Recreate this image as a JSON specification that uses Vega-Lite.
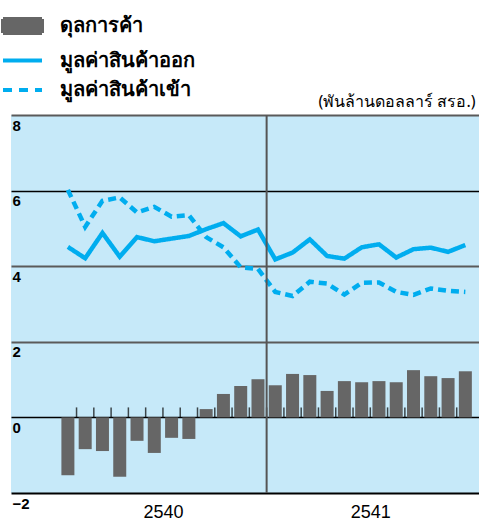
{
  "$schema": "https://vega.github.io/schema/vega-lite/v6.json",
  "width": 468,
  "height": 378,
  "autosize": {"type": "none"},
  "padding": {"left": 11, "top": 115, "right": 0, "bottom": 27},
  "background": "white",
  "config": {
    "view": {"fill": "#c6e9f9", "stroke": null},
    "axisX": {"grid": false, "domain": false, "ticks": false, "labelFontSize": 18, "labelFont": "Liberation Sans", "labelColor": "#000", "labelPadding": 10},
    "axisY": {"domain": false, "ticks": false}
  },
  "data": {
    "values": [
      {"m": 0, "series": "ดุลการค้า", "v": -1.53},
      {"m": 1, "series": "ดุลการค้า", "v": -0.84},
      {"m": 2, "series": "ดุลการค้า", "v": -0.89},
      {"m": 3, "series": "ดุลการค้า", "v": -1.57},
      {"m": 4, "series": "ดุลการค้า", "v": -0.62},
      {"m": 5, "series": "ดุลการค้า", "v": -0.94},
      {"m": 6, "series": "ดุลการค้า", "v": -0.54},
      {"m": 7, "series": "ดุลการค้า", "v": -0.57},
      {"m": 8, "series": "ดุลการค้า", "v": 0.22},
      {"m": 9, "series": "ดุลการค้า", "v": 0.62},
      {"m": 10, "series": "ดุลการค้า", "v": 0.83},
      {"m": 11, "series": "ดุลการค้า", "v": 1.01},
      {"m": 12, "series": "ดุลการค้า", "v": 0.85},
      {"m": 13, "series": "ดุลการค้า", "v": 1.15},
      {"m": 14, "series": "ดุลการค้า", "v": 1.12},
      {"m": 15, "series": "ดุลการค้า", "v": 0.70},
      {"m": 16, "series": "ดุลการค้า", "v": 0.96},
      {"m": 17, "series": "ดุลการค้า", "v": 0.93},
      {"m": 18, "series": "ดุลการค้า", "v": 0.96},
      {"m": 19, "series": "ดุลการค้า", "v": 0.93},
      {"m": 20, "series": "ดุลการค้า", "v": 1.25},
      {"m": 21, "series": "ดุลการค้า", "v": 1.09},
      {"m": 22, "series": "ดุลการค้า", "v": 1.04},
      {"m": 23, "series": "ดุลการค้า", "v": 1.22},
      {"m": 0, "series": "มูลค่าสินค้าออก", "v": 4.51},
      {"m": 1, "series": "มูลค่าสินค้าออก", "v": 4.21},
      {"m": 2, "series": "มูลค่าสินค้าออก", "v": 4.88},
      {"m": 3, "series": "มูลค่าสินค้าออก", "v": 4.25},
      {"m": 4, "series": "มูลค่าสินค้าออก", "v": 4.77},
      {"m": 5, "series": "มูลค่าสินค้าออก", "v": 4.66},
      {"m": 6, "series": "มูลค่าสินค้าออก", "v": 4.73},
      {"m": 7, "series": "มูลค่าสินค้าออก", "v": 4.80},
      {"m": 8, "series": "มูลค่าสินค้าออก", "v": 4.98},
      {"m": 9, "series": "มูลค่าสินค้าออก", "v": 5.14},
      {"m": 10, "series": "มูลค่าสินค้าออก", "v": 4.79},
      {"m": 11, "series": "มูลค่าสินค้าออก", "v": 4.97},
      {"m": 12, "series": "มูลค่าสินค้าออก", "v": 4.18},
      {"m": 13, "series": "มูลค่าสินค้าออก", "v": 4.36},
      {"m": 14, "series": "มูลค่าสินค้าออก", "v": 4.71},
      {"m": 15, "series": "มูลค่าสินค้าออก", "v": 4.27},
      {"m": 16, "series": "มูลค่าสินค้าออก", "v": 4.20},
      {"m": 17, "series": "มูลค่าสินค้าออก", "v": 4.50},
      {"m": 18, "series": "มูลค่าสินค้าออก", "v": 4.58},
      {"m": 19, "series": "มูลค่าสินค้าออก", "v": 4.23},
      {"m": 20, "series": "มูลค่าสินค้าออก", "v": 4.45},
      {"m": 21, "series": "มูลค่าสินค้าออก", "v": 4.49},
      {"m": 22, "series": "มูลค่าสินค้าออก", "v": 4.38},
      {"m": 23, "series": "มูลค่าสินค้าออก", "v": 4.56},
      {"m": 0, "series": "มูลค่าสินค้าเข้า", "v": 6.02},
      {"m": 1, "series": "มูลค่าสินค้าเข้า", "v": 5.04},
      {"m": 2, "series": "มูลค่าสินค้าเข้า", "v": 5.73},
      {"m": 3, "series": "มูลค่าสินค้าเข้า", "v": 5.82},
      {"m": 4, "series": "มูลค่าสินค้าเข้า", "v": 5.42},
      {"m": 5, "series": "มูลค่าสินค้าเข้า", "v": 5.57},
      {"m": 6, "series": "มูลค่าสินค้าเข้า", "v": 5.31},
      {"m": 7, "series": "มูลค่าสินค้าเข้า", "v": 5.35},
      {"m": 8, "series": "มูลค่าสินค้าเข้า", "v": 4.77},
      {"m": 9, "series": "มูลค่าสินค้าเข้า", "v": 4.50},
      {"m": 10, "series": "มูลค่าสินค้าเข้า", "v": 3.97},
      {"m": 11, "series": "มูลค่าสินค้าเข้า", "v": 3.93},
      {"m": 12, "series": "มูลค่าสินค้าเข้า", "v": 3.32},
      {"m": 13, "series": "มูลค่าสินค้าเข้า", "v": 3.21},
      {"m": 14, "series": "มูลค่าสินค้าเข้า", "v": 3.59},
      {"m": 15, "series": "มูลค่าสินค้าเข้า", "v": 3.54},
      {"m": 16, "series": "มูลค่าสินค้าเข้า", "v": 3.25},
      {"m": 17, "series": "มูลค่าสินค้าเข้า", "v": 3.56},
      {"m": 18, "series": "มูลค่าสินค้าเข้า", "v": 3.57},
      {"m": 19, "series": "มูลค่าสินค้าเข้า", "v": 3.32},
      {"m": 20, "series": "มูลค่าสินค้าเข้า", "v": 3.24},
      {"m": 21, "series": "มูลค่าสินค้าเข้า", "v": 3.41},
      {"m": 22, "series": "มูลค่าสินค้าเข้า", "v": 3.35},
      {"m": 23, "series": "มูลค่าสินค้าเข้า", "v": 3.32}
    ]
  },
  "encoding": {
    "x": {
      "field": "m",
      "type": "quantitative",
      "title": null,
      "scale": {"domain": [-3.293, 23.79], "nice": false, "zero": false, "padding": 0},
      "axis": {
        "values": [5.5, 17.5],
        "labelExpr": "datum.value < 10 ? '2540' : '2541'",
        "labelBaseline": "top",
        "labelAlign": "center",
        "labelOverlap": false
      }
    }
  },
  "layer": [
    {
      "transform": [{"filter": "datum.series === 'ดุลการค้า' && datum.m >= 1"}],
      "mark": {"type": "tick", "orient": "vertical", "size": 10, "thickness": 1.5, "color": "#000", "yOffset": -5, "xOffset": -8.64},
      "encoding": {
        "y": {"datum": 0, "type": "quantitative"}
      }
    },
    {
      "transform": [{"filter": "datum.series === 'ดุลการค้า'"}],
      "mark": {"type": "bar", "width": 13, "orient": "vertical"},
      "encoding": {
        "y": {
          "field": "v",
          "type": "quantitative",
          "title": "(พันล้านดอลลาร์ สรอ.)",
          "scale": {"domain": [-2, 8], "nice": false, "zero": false, "padding": 0},
          "axis": {
            "values": [-2, 0, 2, 4, 6, 8],
            "grid": true,
            "gridColor": {"condition": {"test": "datum.value === 0 || datum.value === 6 || datum.value === -2", "value": "#000000"}, "value": "#5a5a5a"},
            "gridWidth": {"condition": {"test": "datum.value === 0 || datum.value === 6", "value": 1.3}, "value": 2},
            "labelAlign": "left",
            "labelBaseline": "top",
            "labelPadding": -1,
            "labelOffset": 3,
            "labelFont": "Liberation Sans",
            "labelFontSize": 15,
            "labelFontWeight": "bold",
            "labelColor": "#000",
            "labelOverlap": false,
            "labelBound": false,
            "labelFlush": false,
            "titleAngle": 0,
            "titleAlign": "right",
            "titleBaseline": "alphabetic",
            "titleX": 464,
            "titleY": -9,
            "titleFont": "Noto Sans",
            "titleFontSize": 16,
            "titleFontWeight": "normal",
            "titleColor": "#000"
          }
        },
        "color": {
          "field": "series",
          "type": "nominal",
          "scale": {
            "domain": ["ดุลการค้า", "มูลค่าสินค้าออก", "มูลค่าสินค้าเข้า"],
            "range": ["#666666", "#00adef", "#00adef"]
          },
          "legend": {
            "orient": "none",
            "legendX": -8,
            "legendY": -101,
            "title": null,
            "direction": "vertical",
            "padding": 0,
            "symbolSize": 400,
            "symbolStrokeWidth": 4,
            "symbolOffset": 7.5,
            "labelFont": "Noto Sans",
            "labelFontSize": 20,
            "labelFontWeight": "bold",
            "labelColor": "#000",
            "labelOffset": 25,
            "rowPadding": 7.5,
            "encode": {
              "symbols": {
                "update": {
                  "shape": {"signal": "datum.index === 0 ? 'M-1.95,-0.7H1.95V0.7H-1.95Z' : 'M-1.95,0H1.95'"},
                  "fill": {"signal": "datum.index === 0 ? '#666666' : 'transparent'"},
                  "stroke": {"signal": "datum.index === 0 ? 'transparent' : '#00adef'"},
                  "strokeDash": {"signal": "datum.index === 2 ? [9, 7] : [1, 0]"},
                  "opacity": {"value": 1}
                }
              }
            }
          }
        }
      }
    },
    {
      "transform": [{"filter": "datum.series !== 'ดุลการค้า'"}],
      "mark": {"type": "line", "strokeWidth": 4.5},
      "encoding": {
        "y": {"field": "v", "type": "quantitative", "title": "(พันล้านดอลลาร์ สรอ.)"},
        "color": {"field": "series", "type": "nominal"},
        "strokeDash": {
          "field": "series",
          "type": "nominal",
          "scale": {"domain": ["มูลค่าสินค้าออก", "มูลค่าสินค้าเข้า"], "range": [[1, 0], [8, 5]]},
          "legend": null
        }
      }
    },
    {
      "data": {"values": [{"b": 11.5}]},
      "mark": {"type": "rule", "color": "#555555", "strokeWidth": 2},
      "encoding": {
        "x": {"field": "b", "type": "quantitative", "title": null}
      }
    }
  ]
}
